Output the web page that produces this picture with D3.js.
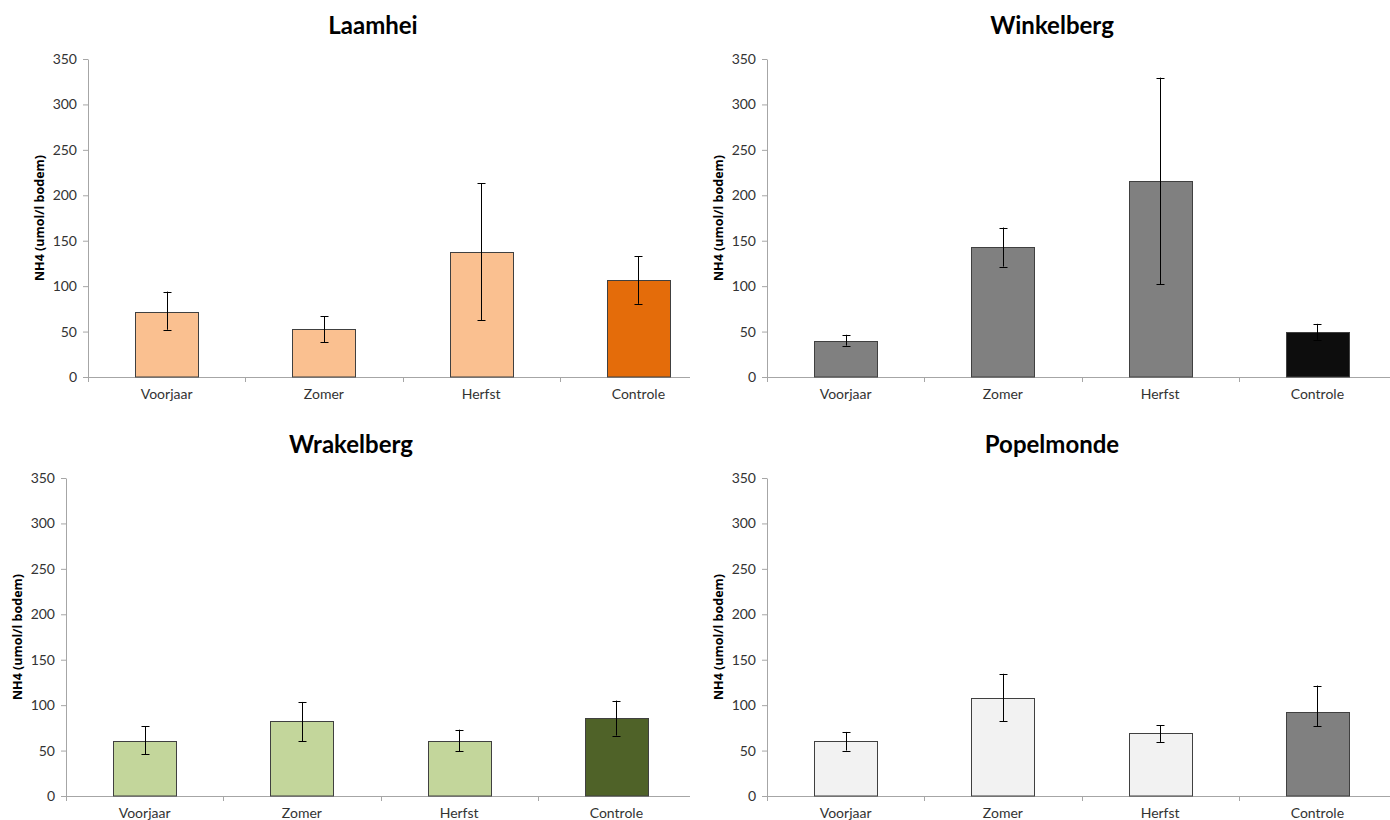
<!DOCTYPE html>
<html>
<head>
<meta charset="utf-8">
<script src="https://cdn.jsdelivr.net/npm/d3@7"></script>
<style>
  body { margin: 0; background: #fff; }
  svg { display: block; }
  .tick text { font-family: Lato, "Open Sans", sans-serif; font-size: 14px; fill: #333; }
</style>
</head>
<body>
<svg id="chart" width="1390" height="820"></svg>
<script>
const categories = ["Voorjaar", "Zomer", "Herfst", "Controle"];
const yTicks = [0, 50, 100, 150, 200, 250, 300, 350];

// means and error bar ends (low / high)
const laamhei = [72, 53, 138, 106.5];
const laamheiLo = [52, 38.5, 62.5, 80.5];
const laamheiHi = [94, 67, 213.5, 133];

const winkelberg = [40, 143, 215.5, 49.5];
const winkelbergLo = [34.5, 121.5, 102, 41];
const winkelbergHi = [46.5, 164.5, 329.5, 58.5];

const wrakelberg = [61, 82, 60.5, 86];
const wrakelbergLo = [46, 60.5, 49, 66.5];
const wrakelbergHi = [77, 103.5, 73, 105];

const popelmonde = [60, 108, 69, 92];
const popelmondeLo = [50, 82.5, 59.5, 77];
const popelmondeHi = [70.5, 134.5, 78, 121.5];

const panels = [
  { title: "Laamhei", values: laamhei, lo: laamheiLo, hi: laamheiHi,
    colors: ["#FAC090", "#E46C0A"], left: 88, top: 59, clipRight: 690 },
  { title: "Winkelberg", values: winkelberg, lo: winkelbergLo, hi: winkelbergHi,
    colors: ["#808080", "#0D0D0D"], left: 767, top: 59, clipRight: 1390 },
  { title: "Wrakelberg", values: wrakelberg, lo: wrakelbergLo, hi: wrakelbergHi,
    colors: ["#C3D69B", "#4F6228"], left: 66, top: 478, clipRight: 690 },
  { title: "Popelmonde", values: popelmonde, lo: popelmondeLo, hi: popelmondeHi,
    colors: ["#F2F2F2", "#808080"], left: 767, top: 478, clipRight: 1390 },
];

const width = 629;
const height = 318;
const axisColor = "#A6A6A6";

const svg = d3.select("#chart");

panels.forEach((p, idx) => {
  const clipId = "clip" + idx;
  svg.append("clipPath").attr("id", clipId)
    .append("rect")
    .attr("x", -p.left).attr("y", -p.top)
    .attr("width", p.clipRight).attr("height", 820);

  const g = svg.append("g")
    .attr("transform", `translate(${p.left},${p.top})`)
    .attr("clip-path", `url(#${clipId})`);

  const x = d3.scaleBand().domain(categories).range([0, width]).padding(0);
  const y = d3.scaleLinear().domain([0, 350]).range([height, 0]);

  // title
  g.append("text")
    .attr("x", 285)
    .attr("y", -25)
    .attr("text-anchor", "middle")
    .style("font-family", "Lato, sans-serif")
    .style("font-weight", "bold")
    .style("font-size", "24px")
    .style("fill", "#000")
    .text(p.title);

  // y axis title
  g.append("text")
    .attr("transform", `translate(-44,${height / 2}) rotate(-90)`)
    .attr("text-anchor", "middle")
    .style("font-family", "'Open Sans', sans-serif")
    .style("font-weight", "bold")
    .style("font-size", "12.5px")
    .style("fill", "#000")
    .text("NH4 (umol/l bodem)");

  // y axis
  const yAxis = g.append("g")
    .call(d3.axisLeft(y).tickValues(yTicks).tickSize(5).tickPadding(6).tickSizeOuter(0));
  yAxis.select(".domain").attr("stroke", axisColor);
  yAxis.selectAll(".tick line").attr("stroke", axisColor);

  // x axis (labels centred in bands, ticks on band edges)
  const xAxis = g.append("g")
    .attr("transform", `translate(0,${height})`)
    .call(d3.axisBottom(x).tickSize(0).tickPadding(12).tickSizeOuter(0));
  xAxis.select(".domain").attr("stroke", axisColor);
  xAxis.selectAll(".tick text").attr("dy", "0.71em");

  const edges = categories.map((c) => x(c)).concat([width]);
  g.append("g")
    .selectAll("line")
    .data(edges)
    .join("line")
    .attr("x1", (d) => Math.round(d) + 0.5)
    .attr("x2", (d) => Math.round(d) + 0.5)
    .attr("y1", height)
    .attr("y2", height + 5)
    .attr("stroke", axisColor);

  const barW = Math.round(x.bandwidth() * 0.4);
  const rows = categories.map((c, i) => ({
    cat: c, v: p.values[i], lo: p.lo[i], hi: p.hi[i],
    color: i === categories.length - 1 ? p.colors[1] : p.colors[0],
  }));
  const cx = (d) => Math.round(x(d.cat) + x.bandwidth() / 2) + 0.5;

  // bars
  g.append("g")
    .selectAll("rect")
    .data(rows)
    .join("rect")
    .attr("x", (d) => Math.round(x(d.cat) + x.bandwidth() / 2 - barW / 2) + 0.5)
    .attr("y", (d) => Math.round(y(d.v)) + 0.5)
    .attr("width", barW)
    .attr("height", (d) => height - Math.round(y(d.v)) - 0.5)
    .attr("fill", (d) => d.color)
    .attr("stroke", "#404040")
    .attr("stroke-width", 1);

  // error bars
  const err = g.append("g")
    .selectAll("g")
    .data(rows)
    .join("g")
    .attr("stroke", "#000")
    .attr("stroke-width", 1);
  err.append("line")
    .attr("x1", cx).attr("x2", cx)
    .attr("y1", (d) => y(d.lo)).attr("y2", (d) => y(d.hi));
  err.append("line")
    .attr("x1", (d) => cx(d) - 4).attr("x2", (d) => cx(d) + 4)
    .attr("y1", (d) => Math.round(y(d.hi)) + 0.5).attr("y2", (d) => Math.round(y(d.hi)) + 0.5);
  err.append("line")
    .attr("x1", (d) => cx(d) - 4).attr("x2", (d) => cx(d) + 4)
    .attr("y1", (d) => Math.round(y(d.lo)) + 0.5).attr("y2", (d) => Math.round(y(d.lo)) + 0.5);
});
</script>
</body>
</html>
